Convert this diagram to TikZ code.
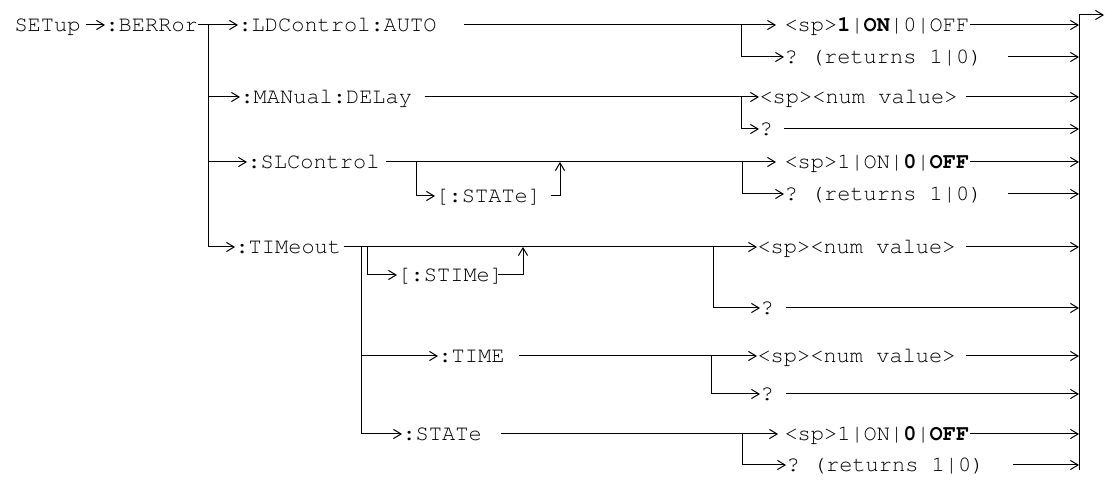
\documentclass[tikz,border=0pt]{standalone}
\usepackage[T1]{fontenc}
\usepackage{courier}
\usepackage{tikz}
\usetikzlibrary{arrows.meta,calc}
\newcommand{\cmdfont}{\ttfamily\fontsize{11}{13}\selectfont\frenchspacing}

\begin{document}
\begin{tikzpicture}[x=0.5pt,y=-0.5pt,line width=0.5pt,
    txt/.style={font=\cmdfont,inner sep=0pt,anchor=west,text height=6.3pt,text depth=0pt},
    arr/.style={-{Straight Barb[length=3.8pt,width=4.6pt]}}]
  \useasboundingbox (0,0) rectangle (1105,480);
  \node[txt] (setup) at (14,25) {SETup};
  \node[txt] (berr) at (105,25) {:BERRor};
  \node[txt] (ldc) at (238,25) {:LDControl:AUTO};
  \node[txt] (man) at (240,97) {:MANual:DELay};
  \node[txt] (slc) at (247,162) {:SLControl};
  \node[txt] (tim) at (235,247) {:TIMeout};
  \node[txt] (slstate) at (435,196) {[:STATe]};
  \node[txt] (stime) at (397,275) {[:STIMe]};
  \node[txt] (time) at (438,356) {:TIME};
  \node[txt] (state) at (402,434) {:STATe};
  \foreach \n/\x/\y/\t in {ldval/784/25/{<sp>\textbf{1}|\textbf{ON}|0|OFF},
      ldq/784/57/{? (returns 1|0)}, manval/759/97/{<sp><num value>}, manq/759/129/{?},
      slval/784/162/{<sp>1|ON|\textbf{0}|\textbf{OFF}}, slq/784/194/{? (returns 1|0)},
      tmval/757/247/{<sp><num value>}, tmq/760/308/{?},
      timeval/757/356/{<sp><num value>}, timeq/760/394/{?},
      stval/784/434/{<sp>1|ON|\textbf{0}|\textbf{OFF}}, stq/786/465/{? (returns 1|0)}}
    \node[txt] (\n) at (\x,\y) {\t};
  \coordinate (j0) at (208,25);
  \coordinate (j1) at (741,25);
  \coordinate (j2) at (741,97);
  \coordinate (j3) at (416,162);
  \coordinate (j4) at (742,162);
  \coordinate (j5) at (361,247);
  \coordinate (j6) at (367,247);
  \coordinate (j7) at (713,247);
  \coordinate (j8) at (711,356);
  \coordinate (j9) at (742,434);
  \coordinate (up1) at (560,162);
  \coordinate (up2) at (523,247);
  \coordinate (bartop) at (1079,15);
  \coordinate (barbot) at (1079,470);
  \coordinate (exit) at (1104,15);
  \draw[arr] ($(setup.east)+(5,0)$) -- (berr.west);
  \draw (berr.east) -- (j0);
  \foreach \n in {ldc,man,slc,tim} \draw[arr] (j0) |- (\n.west);
  \draw[arr,shorten >=4pt] ($(ldc.east)+(27,0)$) -- (ldval.west);
  \draw[arr] (j1) |- (ldq.west);
  \draw[arr] ($(man.east)+(12,0)$) -- (manval.west);
  \draw[arr] (j2) |- (manq.west);
  \draw[arr,shorten >=4pt] ($(slc.east)+(6,0)$) -- (slval.west);
  \draw[arr] (j3) |- (slstate.west);
  \draw[arr] ($(slstate.east)+(9,0)$) -| (up1);
  \draw[arr] (j4) |- (slq.west);
  \draw[arr] ($(tim.east)+(2,0)$) -- (tmval.west);
  \draw[arr] (j6) |- (stime.west);
  \draw[arr] ($(stime.east)+(-6,0)$) -| (up2);
  \draw[arr] (j7) |- (tmq.west);
  \foreach \n in {time,state} \draw[arr] (j5) |- (\n.west);
  \draw[arr] ($(time.east)+(14,0)$) -- (timeval.west);
  \draw[arr] (j8) |- (timeq.west);
  \draw[arr,shorten >=3pt] ($(state.east)+(19,0)$) -- (stval.west);
  \draw[arr] (j9) |- (stq.west);
  \foreach \n/\g in {ldval/0,ldq/25,manval/8,manq/11,slval/0,slq/25,tmval/10,tmq/12,
      timeval/10,timeq/12,stval/0,stq/28}
    \draw[arr] ($(\n.east)+(\g,0)$) -- (\n.east -| bartop);
  \draw (barbot) -- (bartop);
  \draw[arr] (bartop) -- (exit);
\end{tikzpicture}
\end{document}
